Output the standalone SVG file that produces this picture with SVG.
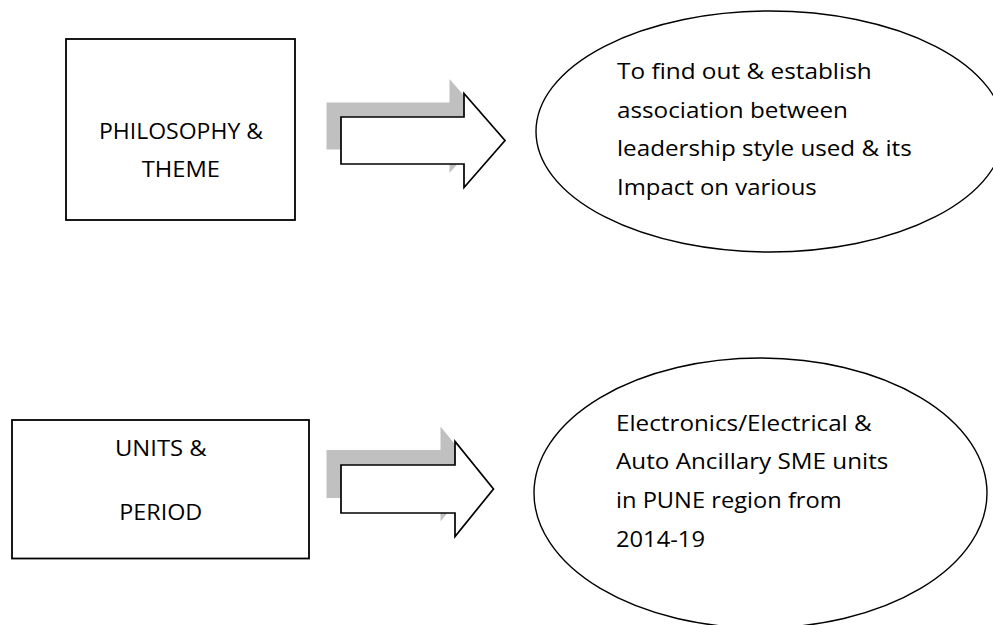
<svg xmlns="http://www.w3.org/2000/svg" width="993" height="625" viewBox="0 0 993 625">
  <style>
    .box { fill: #ffffff; stroke: #000000; stroke-width: 1.8; }
    .oval { fill: #ffffff; stroke: #000000; stroke-width: 1.4; }
    .shadow { fill: #c0c0c0; stroke: none; }
    .arrow { fill: #ffffff; stroke: #000000; stroke-width: 1.7; stroke-linejoin: miter; }
    .label { font-family: "Open Sans", "Liberation Sans", sans-serif; font-size: 22px; fill: #000000; }
  </style>
  <defs>
    <!-- block arrow outline, origin at the left end of the shaft centre line -->
    <polygon id="blockArrow1" points="0,-23.5 123,-23.5 123,-47 164,0 123,47 123,23.5 0,23.5"/>
    <polygon id="blockArrow2" points="0,-24 114,-24 114,-47.5 152.5,0 114,47.5 114,24 0,24"/>
  </defs>

  <rect width="993" height="625" fill="#ffffff"/>

  <!-- Row 1 -->
  <g id="philosophy-theme">
    <rect class="box" x="66" y="39" width="229" height="181"/>
    <text class="label" x="99" y="138.5" textLength="164" lengthAdjust="spacingAndGlyphs">PHILOSOPHY &amp;</text>
    <text class="label" x="141.7" y="176.7" textLength="78.3" lengthAdjust="spacingAndGlyphs">THEME</text>
  </g>

  <g id="aim">
    <ellipse class="oval" cx="770" cy="131.5" rx="234" ry="120.5"/>
    <text class="label" x="617" y="79.3" textLength="254.7" lengthAdjust="spacingAndGlyphs">To find out &amp; establish</text>
    <text class="label" x="617" y="117.5" textLength="231" lengthAdjust="spacingAndGlyphs">association between</text>
    <text class="label" x="617" y="156" textLength="294.7" lengthAdjust="spacingAndGlyphs">leadership style used &amp; its</text>
    <text class="label" x="617" y="194.5" textLength="199.7" lengthAdjust="spacingAndGlyphs">Impact on various</text>
  </g>

  <!-- Row 2 -->
  <g id="units-period">
    <rect class="box" x="12" y="420" width="297" height="138.5"/>
    <text class="label" x="115" y="456" textLength="91.7" lengthAdjust="spacingAndGlyphs">UNITS &amp;</text>
    <text class="label" x="119.3" y="520" textLength="83" lengthAdjust="spacingAndGlyphs">PERIOD</text>
  </g>

  <g id="scope">
    <ellipse class="oval" cx="760.5" cy="493" rx="226.5" ry="135"/>
    <text class="label" x="616" y="430.7" textLength="255.7" lengthAdjust="spacingAndGlyphs">Electronics/Electrical &amp;</text>
    <text class="label" x="616" y="469.3" textLength="272.3" lengthAdjust="spacingAndGlyphs">Auto Ancillary SME units</text>
    <text class="label" x="616" y="507.8" textLength="225.7" lengthAdjust="spacingAndGlyphs">in PUNE region from</text>
    <text class="label" x="616" y="546.5" textLength="89" lengthAdjust="spacingAndGlyphs">2014-19</text>
  </g>

  <!-- Connectors: block arrows with offset grey shadow -->
  <g id="connectors">
    <g id="arrow-1" transform="translate(341,140.5)">
      <use href="#blockArrow1" class="shadow" transform="translate(-14.5,-14.5)"/>
      <use href="#blockArrow1" class="arrow"/>
    </g>
    <g id="arrow-2" transform="translate(341,489)">
      <use href="#blockArrow2" class="shadow" transform="translate(-14.5,-15)"/>
      <use href="#blockArrow2" class="arrow"/>
    </g>
  </g>
</svg>
